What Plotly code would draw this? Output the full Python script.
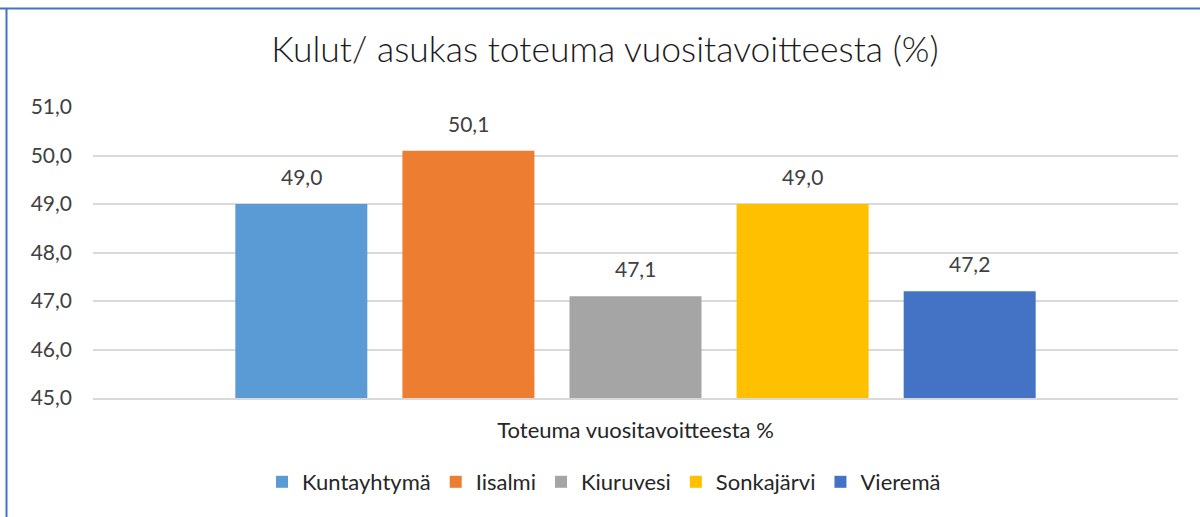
import plotly.graph_objects as go

category = ["Toteuma vuositavoitteesta %"]
series_names = ["Kuntayhtymä", "Iisalmi", "Kiuruvesi", "Sonkajärvi", "Vieremä"]
series_values = [49.0, 50.1, 47.1, 49.0, 47.2]
colors = ["#5B9BD5", "#ED7D31", "#A5A5A5", "#FFC000", "#4472C4"]
y_ticks = [45, 46, 47, 48, 49, 50, 51]

FONT = "Lato"
BARGAP = 0.23
n = len(series_names)

fig = go.Figure()
annotations = []
for i, (name, val, col) in enumerate(zip(series_names, series_values, colors)):
    fig.add_trace(go.Bar(
        x=[0], y=[val], name=name, marker=dict(color=col, line=dict(width=0)),
    ))
    # data label centred over each grouped bar (category 0, offset by the group slot)
    annotations.append(dict(
        x=(i - (n - 1) / 2) * (1 - BARGAP) / n, y=val, xref="x", yref="y",
        text=f"{val:.1f}".replace(".", ","), showarrow=False,
        yanchor="bottom", yshift=13,
        font=dict(family=FONT, size=21, color="#404040"),
    ))

W, H = 1200, 517
L, R, T, B = 93, 22, 107, 119
pw, ph = W - L - R, H - T - B

fig.update_layout(
    width=W, height=H,
    margin=dict(l=L, r=R, t=T, b=B),
    paper_bgcolor="white", plot_bgcolor="white",
    separators=", ",
    barmode="group", bargap=BARGAP, bargroupgap=0.21,
    title=dict(text="Kulut/ asukas toteuma vuositavoitteesta (%)", x=(605 - L) / pw,
               xref="paper", xanchor="center",
               y=1 - 50 / H, yanchor="middle",
               font=dict(family=FONT, size=35.5, color="#1a1a1a", weight=300)),
    font=dict(family=FONT, size=21, color="#404040"),
    showlegend=True,
    legend=dict(orientation="h", x=(604 - L) / pw, xanchor="center", y=-(482 - T - ph) / ph,
                yanchor="middle",
                font=dict(family=FONT, size=22, color="#262626"), itemwidth=30,
                traceorder="normal"),
    yaxis=dict(range=[45, 51], tickvals=y_ticks, tickformat=".1f", showgrid=True,
               gridcolor="#d9d9d9", gridwidth=2, zeroline=False, showline=False,
               ticks="", ticklabelstandoff=20,
               tickfont=dict(family=FONT, size=21, color="#404040")),
    xaxis=dict(showline=True, linecolor="#d9d9d9", linewidth=2, ticks="",
               tickvals=[0], ticktext=category, range=[-0.5, 0.5],
               ticklabelstandoff=12,
               tickfont=dict(family=FONT, size=22, color="#262626")),
    annotations=annotations,
    shapes=[
        dict(type="line", xref="paper", yref="paper", x0=-L / pw, x1=1.5,
             y0=1 + (T - 8.5) / ph, y1=1 + (T - 8.5) / ph,
             line=dict(color="#4472C4", width=2)),
        dict(type="line", xref="paper", yref="paper", x0=-(L - 6.5) / pw, x1=-(L - 6.5) / pw,
             y0=1 + (T - 8.5) / ph, y1=-1,
             line=dict(color="#4472C4", width=2)),
    ],
)

fig.write_html("out.html", config={"displayModeBar": False},
               post_script="document.body.style.margin='0';")
